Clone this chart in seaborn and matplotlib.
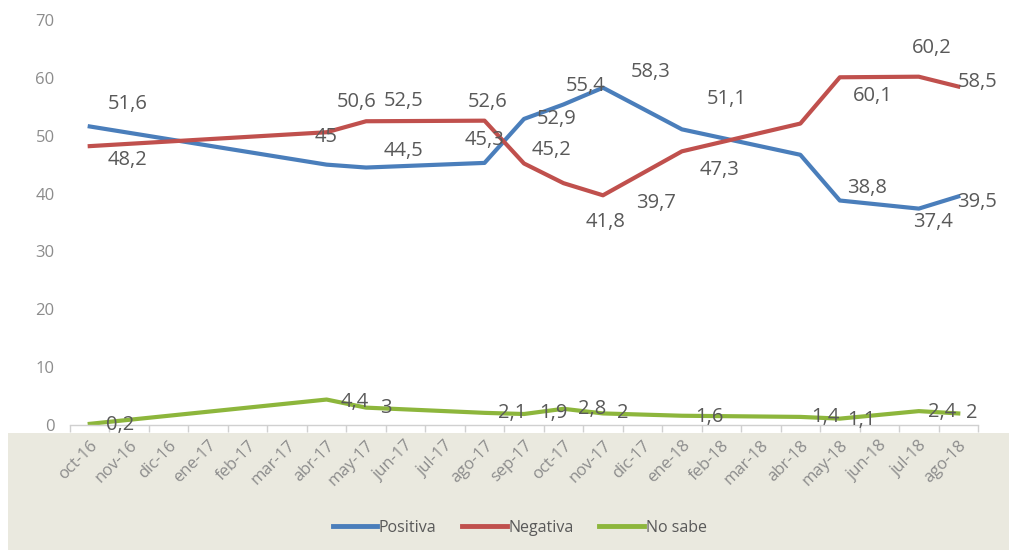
import numpy as np
import pandas as pd
import matplotlib
matplotlib.use("Agg")
import matplotlib.pyplot as plt
import seaborn as sns
from matplotlib.patches import Rectangle

# all months on the category axis
months = ['oct-16', 'nov-16', 'dic-16', 'ene-17', 'feb-17', 'mar-17', 'abr-17',
          'may-17', 'jun-17', 'jul-17', 'ago-17', 'sep-17', 'oct-17', 'nov-17',
          'dic-17', 'ene-18', 'feb-18', 'mar-18', 'abr-18', 'may-18', 'jun-18',
          'jul-18', 'ago-18']

# months with a measurement
surveyed = ['oct-16', 'abr-17', 'may-17', 'ago-17', 'sep-17', 'oct-17', 'nov-17',
            'ene-18', 'abr-18', 'may-18', 'jul-18', 'ago-18']

positiva = [51.6, 45, 44.5, 45.3, 52.9, 55.4, 58.3, 51.1, 46.7, 38.8, 37.4, 39.5]
negativa = [48.2, 50.6, 52.5, 52.6, 45.2, 41.8, 39.7, 47.3, 52.1, 60.1, 60.2, 58.5]
no_sabe = [0.2, 4.4, 3, 2.1, 1.9, 2.8, 2, 1.6, 1.4, 1.1, 2.4, 2]

series_names = ['Positiva', 'Negativa', 'No sabe']
colors = {'Positiva': '#4A7EBB', 'Negativa': '#C0504D', 'No sabe': '#8DB63C'}

# label offsets in pixels (dx, dy up); None = label not shown
label_offsets = {
    'Positiva': [(38, 22), (0, 28), (37, 17), (0, 23), (33, 0), (22, 18), (48, 16),
                 (45, 30), None, (27, 13), (14, -13), (19, -6)],
    'Negativa': [(38, -14), (30, 30), (38, 20), (3, 19), (28, 13), (42, -39), (53, -8),
                 (38, -19), None, (33, -19), (13, 29), (19, 5)],
    'No sabe': [(30, -1), (28, -2), (20, 0), (28, 0), (29, 1), (29, 0), (20, 0),
                (27, -1), (25, 0), (22, -1), (23, -1), (13, 0)],
}

pos = [months.index(m) for m in surveyed]
df = pd.DataFrame({
    'pos': pos * 3,
    'valor': positiva + negativa + no_sabe,
    'serie': [s for s in series_names for _ in surveyed],
})

fig = plt.figure(figsize=(10.09, 5.5), dpi=100)
fig.patch.set_facecolor('white')
# beige band under the plot
fig.patches.append(Rectangle((8 / 1009, 0), 1, 117 / 550, transform=fig.transFigure,
                             facecolor='#EAE9DF', edgecolor='none', zorder=-10))

ax = fig.add_axes([70 / 1009, 1 - 425 / 550, 908 / 1009, 405 / 550])
ax.set_facecolor('none')

sns.lineplot(data=df, x='pos', y='valor', hue='serie', palette=colors,
             hue_order=series_names, linewidth=3, ax=ax, legend=True)

font = 'Open Sans'
for name, vals in zip(series_names, [positiva, negativa, no_sabe]):
    for p, v, off in zip(pos, vals, label_offsets[name]):
        if off is None:
            continue
        ax.annotate(f"{v:g}".replace('.', ','), (p, v), xytext=off,
                    textcoords='offset pixels', ha='center', va='center',
                    fontsize=14.5, color='#595959', family=font)

ax.set_xlim(-0.5, len(months) - 0.5)
ax.set_ylim(0, 70)
ax.set_yticks(range(0, 71, 10))
ax.set_yticklabels([str(t) for t in range(0, 71, 10)], family=font,
                   fontsize=12, color='#8C8C8C')
ax.tick_params(axis='y', length=0, pad=11)

ax.set_xticks(np.arange(len(months)))
ax.set_xticklabels(months, rotation=45, ha='right', rotation_mode='anchor',
                   family=font, fontsize=12, color='#8C8C8C')
ax.set_xticks(np.arange(-0.5, len(months)), minor=True)
ax.tick_params(axis='x', which='major', length=0, pad=9)
ax.tick_params(axis='x', which='minor', length=5, color='#D0D0D0', width=1)

for s in ['top', 'right', 'left']:
    ax.spines[s].set_visible(False)
ax.spines['bottom'].set_color('#D0D0D0')
ax.spines['bottom'].set_linewidth(1)
ax.set_xlabel('')
ax.set_ylabel('')

handles, labels = ax.get_legend_handles_labels()
leg = ax.legend(handles, labels, loc='center', bbox_to_anchor=(0.515, 1 - 528 / 550),
                bbox_transform=fig.transFigure, ncol=3, frameon=False,
                prop={'family': font, 'size': 11.5}, labelcolor='#595959',
                handlelength=2.8, handletextpad=0.1, columnspacing=1.6)
for line in leg.get_lines():
    line.set_linewidth(3.5)

fig.savefig('out.png', dpi=100)
